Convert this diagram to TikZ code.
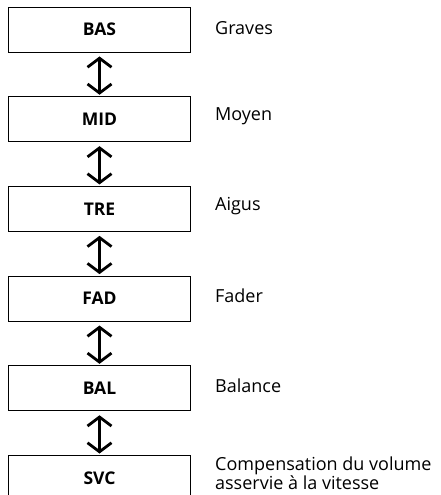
\documentclass[tikz,border=0pt]{standalone}
\usepackage{fontspec}
\setmainfont{Open Sans}
\usetikzlibrary{arrows.meta,positioning}

\begin{document}
\begin{tikzpicture}[x=1pt,y=1pt,node distance=43.8pt]
\tikzset{
 menubox/.style={draw,line width=0.9pt,minimum width=182pt,minimum height=45pt,inner sep=0pt,font=\fontsize{17.5}{20}\selectfont\bfseries},
 lbl/.style={align=left,inner sep=0pt,font=\fontsize{18}{18}\selectfont},
 dbl/.style={{Straight Barb[length=9pt,width=24pt]}-{Straight Barb[length=9pt,width=24pt]},line width=2.8pt,shorten <=4pt,shorten >=1.5pt}
}
\useasboundingbox (0,0) rectangle (440,-495);
\node[menubox] (bas) at (99.5,-29.5) {BAS};
\node[menubox,below=of bas] (mid) {MID};
\node[menubox,below=of mid] (tre) {TRE};
\node[menubox,below=of tre] (fad) {FAD};
\node[menubox,below=of fad] (bal) {BAL};
\node[menubox,below=of bal] (svc) {SVC};
\node[lbl,right=24pt of bas,yshift=1.5pt] (graves) {Graves};
\node[lbl,right=24pt of mid,yshift=3pt] (moyen) {Moyen};
\node[lbl,right=24pt of tre,yshift=3pt] (aigus) {Aigus};
\node[lbl,right=24pt of fad,yshift=3pt] (fader) {Fader};
\node[lbl,right=24pt of bal,yshift=3pt] (balance) {Balance};
\node[lbl,right=24pt of svc,yshift=5pt] (svcl) {Compensation du volume\\asservie à la vitesse};
\draw[dbl] (bas) -- (mid);
\draw[dbl] (mid) -- (tre);
\draw[dbl] (tre) -- (fad);
\draw[dbl] (fad) -- (bal);
\draw[dbl] (bal) -- (svc);
\end{tikzpicture}
\end{document}
